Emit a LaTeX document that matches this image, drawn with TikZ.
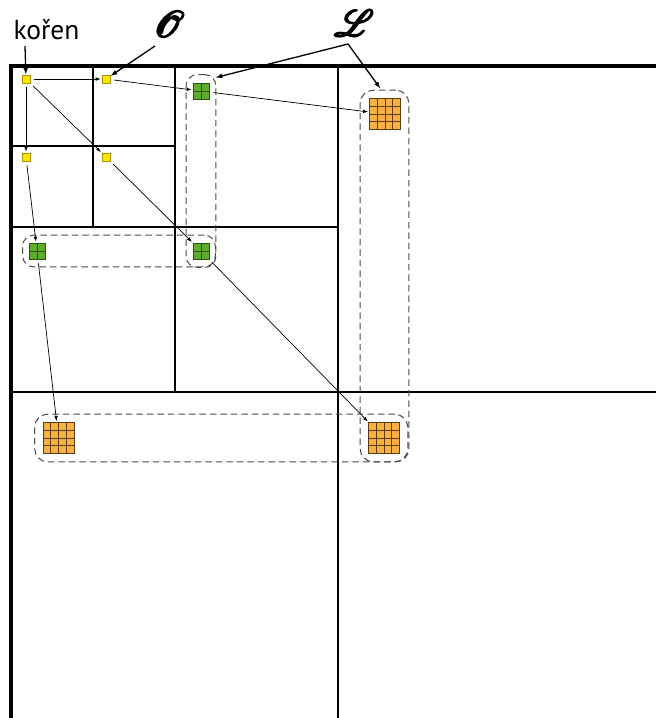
\documentclass[tikz,border=0pt]{standalone}
\usepackage{fontspec}
\usepackage{mathrsfs}
\newfontfamily\labelfont{PT Sans}
\usetikzlibrary{arrows.meta,fit,calc}

\definecolor{yfill}{HTML}{FFE400}
\definecolor{yline}{HTML}{A89400}
\definecolor{gfill}{HTML}{5FAD2B}
\definecolor{gline}{HTML}{2C5214}
\definecolor{ofill}{HTML}{F8B041}
\definecolor{oline}{HTML}{5E3C12}
\definecolor{dashgray}{HTML}{4A4A4A}

% stroked (emboldened) and enlarged script letter
\newcommand{\boldscript}[1]{\scalebox{1.5}{\fontsize{24.88}{30}\selectfont\special{pdf:literal direct 2 Tr 1.1 w}$\mathscr{#1}$\special{pdf:literal direct 0 Tr}}}

\begin{document}
\begin{tikzpicture}[x=1pt,y=-1pt,
  frame/.style={line width=4pt},
  cell/.style={line width=1.6pt},
  octant/.style={draw=yline, fill=yfill, line width=0.6pt, minimum size=8pt, inner sep=0pt},
  leafS/.style={draw=gline, fill=gfill, line width=0.7pt, minimum size=16pt, inner sep=0pt,
    path picture={\draw[gline, line width=0.7pt]
      (path picture bounding box.north) -- (path picture bounding box.south)
      (path picture bounding box.west) -- (path picture bounding box.east);}},
  leafL/.style={draw=oline, fill=ofill, line width=0.6pt, minimum size=31pt, inner sep=0pt,
    path picture={\foreach \t in {0.25,0.5,0.75}{
      \draw[oline, line width=0.6pt]
        ($(path picture bounding box.north west)!\t!(path picture bounding box.north east)$) --
        ($(path picture bounding box.south west)!\t!(path picture bounding box.south east)$)
        ($(path picture bounding box.north west)!\t!(path picture bounding box.south west)$) --
        ($(path picture bounding box.north east)!\t!(path picture bounding box.south east)$);}}},
  group/.style={draw=dashgray, line width=1pt, dash pattern=on 6.5pt off 4pt, rounded corners=11pt},
  link/.style={line width=0.7pt, -{Latex[length=5pt,width=3.6pt]}, shorten <=4pt, shorten >=1pt},
  callout/.style={line width=1.3pt, -{Latex[length=7pt,width=5pt]}},
]
\useasboundingbox (0,0) rectangle (656,718);

% cell boundaries of the subdivision
\draw[cell] (93,66) -- (93,227);
\draw[cell] (11,146) -- (175,146);
\draw[cell] (175,66) -- (175,392);
\draw[cell] (11,227) -- (338,227);
\draw[cell] (338,66) -- (338,718);
\draw[cell] (11,392) -- (656,392);
\draw[frame] (11,718) -- (11,66) -- (656,66);

% inner octants
\node[octant] (r) at (26,79) {};
\node[octant] (a) at (106,79) {};
\node[octant] (b) at (26,157) {};
\node[octant] (c) at (106,157) {};

% leaves
\node[leafS] (g1) at (201,91) {};
\node[leafS] (g2) at (37,251) {};
\node[leafS] (g3) at (201,251) {};
\node[leafL] (o1) at (385,114) {};
\node[leafL] (o2) at (58.5,438) {};
\node[leafL] (o3) at (384,438) {};

% leaf groups
\node[group, fit=(g1)(g3), inner xsep=6.5pt, inner ysep=8pt] (gv) {};
\node[group, fit=(g2)(g3), inner xsep=6pt, inner ysep=7.5pt] (gh) {};
\node[group, fit=(o1)(o3), inner sep=8pt, rounded corners=13pt] (ov) {};
\node[group, fit=(o2)(o3), inner sep=8pt, rounded corners=13pt] (oh) {};

% tree links
\draw[link] (r) -- (a);
\draw[link] (r) -- (b);
\draw[link] (r) -- (c);
\draw[link] (a) -- (g1);
\draw[link] (b) -- (g2);
\draw[link] (c) -- (g3);
\draw[link] (g1) -- (o1);
\draw[link] (g2) -- (o2);
\draw[link] (g3) -- (o3);

% labels
\node[font=\labelfont\fontsize{27.5}{32}\selectfont, inner sep=0pt] (koren) at (46.5,30) {kořen};
\node[inner sep=0pt] (O) at (169,24) {\boldscript{O}};
\node[inner sep=0pt] (L) at (354,23) {\boldscript{L}};

\coordinate (kt) at (25,46);
\coordinate (Ot) at (155,46);
\coordinate (Lj) at (348,44);
\draw[callout] (kt) -- (r);
\draw[callout] (Ot) -- (a);
\draw[callout] (Lj) -- ($(gv.north east)+(-1,3.5)$);
\draw[callout] (Lj) -- ($(ov.north)+(-4,-1)$);
\end{tikzpicture}
\end{document}
